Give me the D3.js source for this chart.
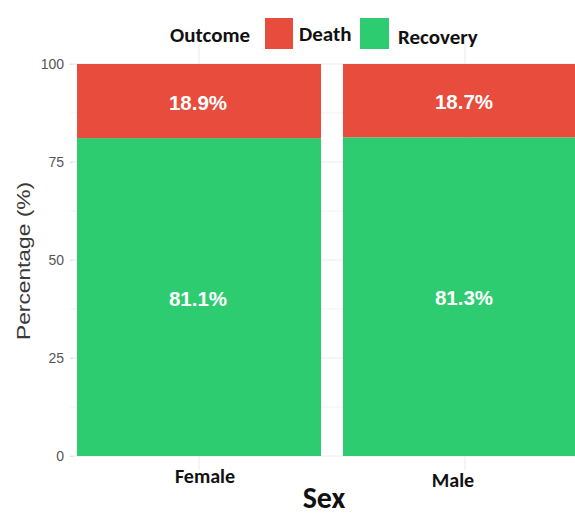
<!DOCTYPE html>
<html>
<head>
<meta charset="utf-8">
<script src="https://cdn.jsdelivr.net/npm/d3@7"></script>
<style>
  html, body { margin: 0; padding: 0; background: #fff; }
  svg { display: block; }
</style>
</head>
<body>
<svg id="chart" width="575" height="515"></svg>
<script>
// Outcome shares by sex (percent)
const categories = ["Female", "Male"];
const outcomes = ["Recovery", "Death"];
const recovery = [81.1, 81.3];
const death = [18.9, 18.7];
const yTicks = [0, 25, 50, 75, 100];
const colors = { Death: "#E74C3C", Recovery: "#2ECC71" };

const svg = d3.select("#chart");
const W = 575, H = 515;
const panel = { left: 77, top: 64, bottom: 456 };
const step = 266;

const x = d3.scaleBand()
  .domain(categories)
  .range([panel.left - 11, panel.left - 11 + step * categories.length])
  .paddingInner(22 / step)
  .paddingOuter(11 / step);

const y = d3.scaleLinear().domain([0, 100]).range([panel.bottom, panel.top]);

// faint grid
const grid = svg.append("g");
const minor = d3.range(0, 101, 12.5);
grid.selectAll("line.h").data(minor).join("line")
  .attr("x1", 70).attr("x2", W)
  .attr("y1", d => y(d)).attr("y2", d => y(d))
  .attr("stroke", "#ebebeb").attr("stroke-width", d => d % 25 === 0 ? 1.1 : 0.6);
grid.selectAll("line.v").data(categories).join("line")
  .attr("x1", d => x(d) + x.bandwidth() / 2).attr("x2", d => x(d) + x.bandwidth() / 2)
  .attr("y1", 44).attr("y2", 470)
  .attr("stroke", "#ebebeb").attr("stroke-width", 1.1);

// stacked data
const rows = categories.map((c, i) => ({ sex: c, Recovery: recovery[i], Death: death[i] }));
const stack = d3.stack().keys(outcomes)(rows);

const layers = svg.append("g").selectAll("g").data(stack).join("g")
  .attr("fill", d => colors[d.key]);
layers.selectAll("rect").data(d => d).join("rect")
  .attr("x", d => x(d.data.sex))
  .attr("width", x.bandwidth())
  .attr("y", d => y(d[1]))
  .attr("height", d => y(d[0]) - y(d[1]));

// percentage labels
layers.selectAll("text").data(d => d).join("text")
  .attr("x", d => x(d.data.sex) + x.bandwidth() / 2 - 1)
  .attr("y", d => (y(d[0]) + y(d[1])) / 2)
  .attr("dy", "0.42em")
  .attr("text-anchor", "middle")
  .attr("fill", "#fff")
  .attr("font-family", "Liberation Sans, Arial, sans-serif")
  .attr("font-weight", "bold")
  .attr("font-size", 20.5)
  .text(d => (d[1] - d[0]).toFixed(1) + "%");

// y axis
const yAxis = svg.append("g")
  .attr("transform", `translate(${panel.left - 4},0)`)
  .call(d3.axisLeft(y).tickValues(yTicks).tickSize(3).tickPadding(6));
yAxis.select(".domain").remove();
yAxis.selectAll(".tick line").attr("stroke", "#e0e0e0");
yAxis.selectAll("text")
  .attr("fill", "#555")
  .attr("font-family", "Liberation Sans, Arial, sans-serif")
  .attr("font-size", 14);

svg.append("text")
  .attr("transform", `translate(30,261) rotate(-90)`)
  .attr("text-anchor", "middle")
  .attr("fill", "#3a3a3a")
  .attr("font-family", "Liberation Sans, Arial, sans-serif")
  .attr("font-size", 19)
  .attr("textLength", 158)
  .attr("lengthAdjust", "spacingAndGlyphs")
  .text("Percentage (%)");

// x axis
const labelFont = "Carlito, Lato, 'Open Sans', sans-serif";
const xAxis = svg.append("g")
  .attr("transform", `translate(0,${panel.bottom})`)
  .call(d3.axisBottom(x).tickSize(0).tickPadding(13));
xAxis.select(".domain").remove();
const xShift = { Female: [6, 0], Male: [-12, 4] };
xAxis.selectAll("text")
  .attr("fill", "#111")
  .attr("font-family", labelFont)
  .attr("font-weight", "bold")
  .attr("font-size", 20)
  .attr("dx", d => xShift[d][0])
  .attr("transform", d => `translate(0,${xShift[d][1]})`);

svg.append("text")
  .attr("x", 324).attr("y", 508)
  .attr("text-anchor", "middle")
  .attr("fill", "#111")
  .attr("font-family", labelFont)
  .attr("font-weight", "bold")
  .attr("font-size", 30)
  .text("Sex");

// legend
const legend = svg.append("g").attr("font-family", labelFont).attr("font-weight", "bold").attr("fill", "#111");
legend.append("text").attr("x", 170).attr("y", 42).attr("font-size", 21).text("Outcome");
const items = [
  { key: "Death", box: [265, 18, 28, 31], tx: 299, ty: 41 },
  { key: "Recovery", box: [360, 18, 29, 31], tx: 398, ty: 44 }
];
items.forEach(it => {
  legend.append("rect")
    .attr("x", it.box[0]).attr("y", it.box[1])
    .attr("width", it.box[2]).attr("height", it.box[3])
    .attr("fill", colors[it.key]);
  legend.append("text").attr("x", it.tx).attr("y", it.ty).attr("font-size", 21).text(it.key);
});
</script>
</body>
</html>
